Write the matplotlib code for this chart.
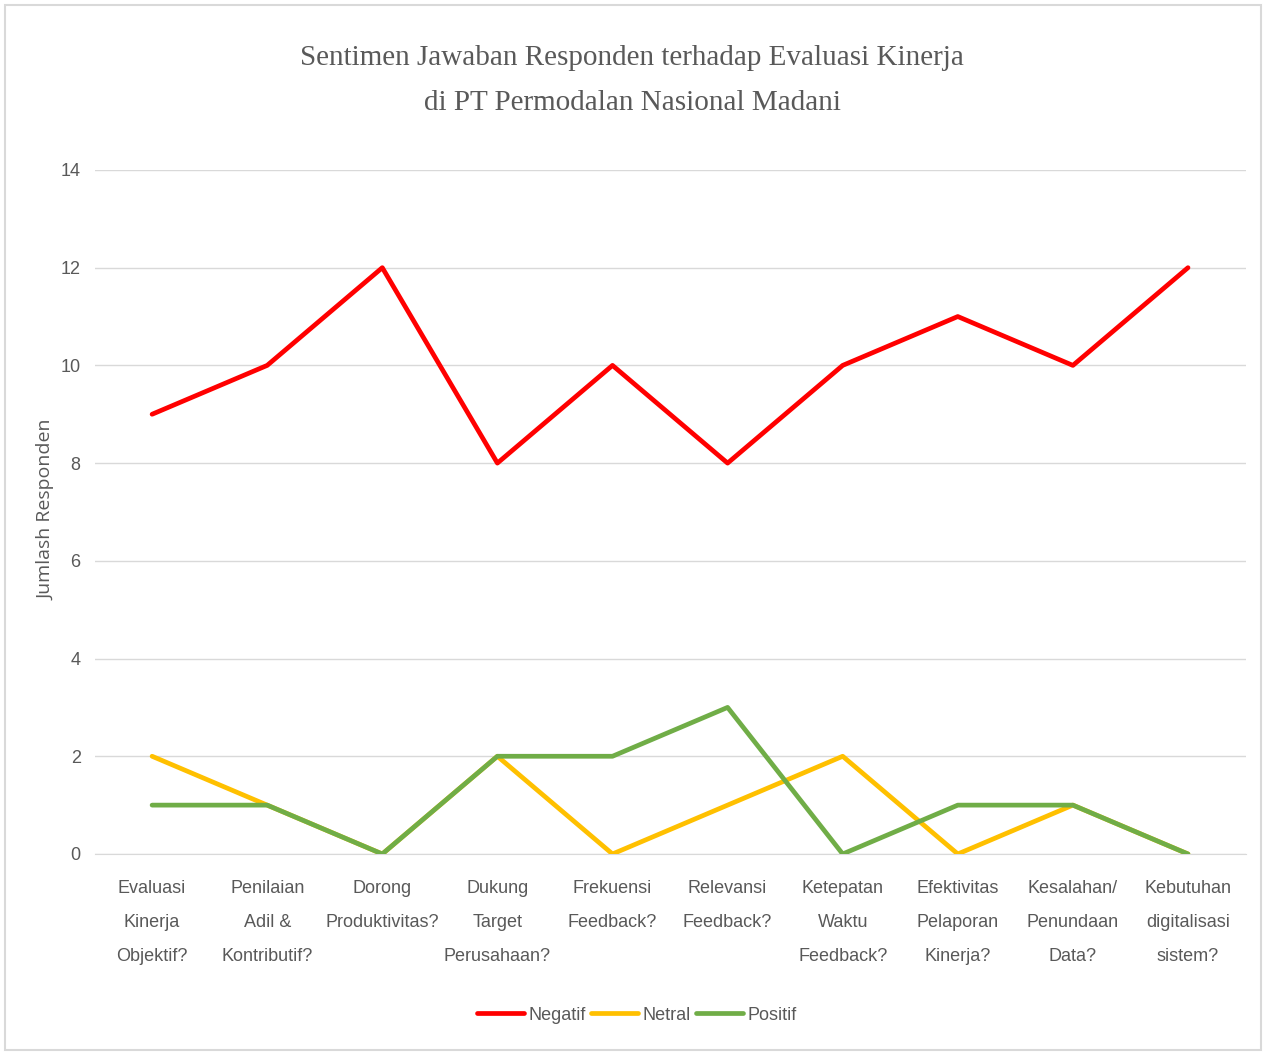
import matplotlib.pyplot as plt
from matplotlib.patches import Rectangle

categories = [
    'Evaluasi\nKinerja\nObjektif?', 'Penilaian\nAdil &\nKontributif?', 'Dorong\nProduktivitas?',
    'Dukung\nTarget\nPerusahaan?', 'Frekuensi\nFeedback?', 'Relevansi\nFeedback?',
    'Ketepatan\nWaktu\nFeedback?', 'Efektivitas\nPelaporan\nKinerja?', 'Kesalahan/\nPenundaan\nData?',
    'Kebutuhan\ndigitalisasi\nsistem?',
]
negatif = [9, 10, 12, 8, 10, 8, 10, 11, 10, 12]
netral = [2, 1, 0, 2, 0, 1, 2, 0, 1, 0]
positif = [1, 1, 0, 2, 2, 3, 0, 1, 1, 0]

font = 'Liberation Sans'
gray = '#595959'

fig = plt.figure(figsize=(12.64, 10.53), dpi=100)
ax = fig.add_axes([0.0748, 0.189, 0.9106, 0.6496])

x = list(range(len(categories)))
ax.plot(x, negatif, color='#ff0000', lw=3.4, label='Negatif', solid_capstyle='round', zorder=3)
ax.plot(x, netral, color='#ffc000', lw=3.4, label='Netral', solid_capstyle='round', zorder=3)
ax.plot(x, positif, color='#70ad47', lw=3.4, label='Positif', solid_capstyle='round', zorder=4)

ax.set_xlim(-0.5, len(categories) - 0.5)
ax.set_ylim(0, 14)
ax.set_yticks(range(0, 15, 2))
ax.set_xticks(x)
ax.set_xticklabels(categories, fontsize=13, color=gray, family=font, linespacing=2.3)
for lab in ax.get_yticklabels():
    lab.set_fontsize(13)
    lab.set_color(gray)
    lab.set_family(font)
ax.grid(axis='y', color='#d9d9d9', lw=1)
ax.set_axisbelow(True)
ax.tick_params(axis='y', length=0, pad=10)
ax.tick_params(axis='x', length=0, pad=19)
for s in ['top', 'right', 'left']:
    ax.spines[s].set_visible(False)
ax.spines['bottom'].set_color('#d9d9d9')

ax.set_ylabel('Jumlash Responden', fontsize=14, color=gray, family='Open Sans')
ax.yaxis.set_label_coords(-0.034, 0.503)

fig.text(0.5, 0.9232, 'Sentimen Jawaban Responden terhadap Evaluasi Kinerja\ndi PT Permodalan Nasional Madani',
         ha='center', va='center', fontsize=21, color=gray, family='Liberation Serif', linespacing=1.95)

fig.legend(loc='center', bbox_to_anchor=(0.504, 0.036), ncol=3, frameon=False,
           prop={'family': font, 'size': 13}, handlelength=2.6, columnspacing=0.3,
           handletextpad=0.25, labelcolor=gray)

fig.patches.append(Rectangle((0.004, 0.003), 0.994, 0.992, transform=fig.transFigure,
                             fill=False, edgecolor='#d9d9d9', lw=1.5))

fig.savefig('out.png', dpi=100)
